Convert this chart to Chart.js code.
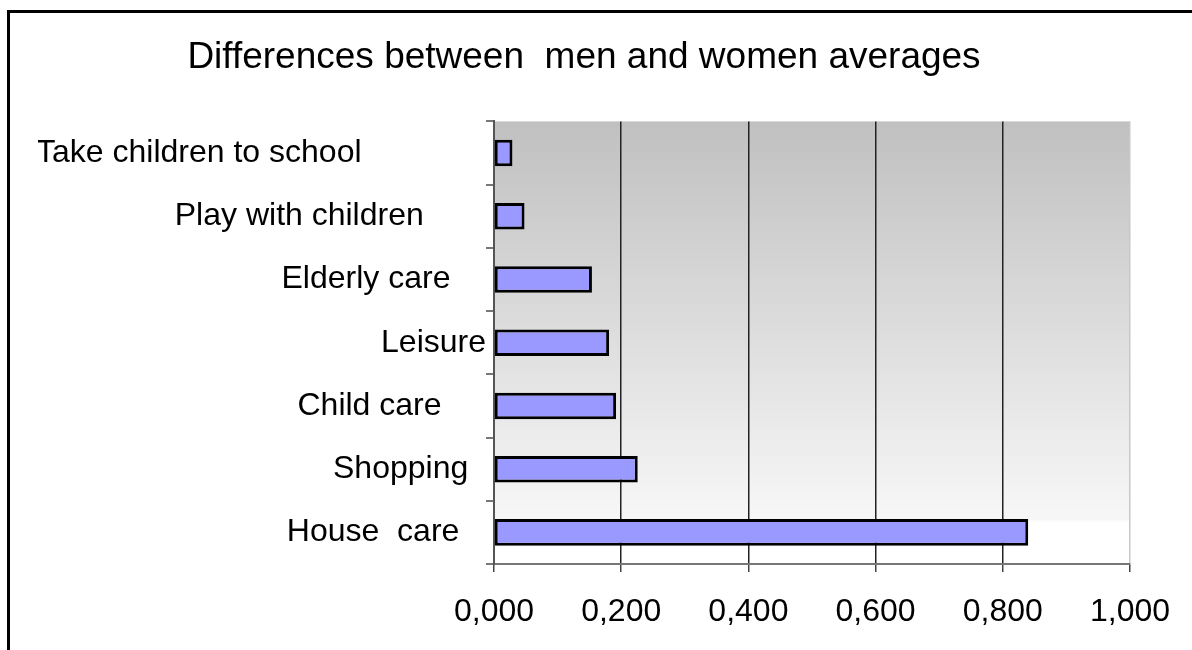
<!DOCTYPE html>
<html>
<head>
<meta charset="utf-8">
<script src="https://cdn.jsdelivr.net/npm/chart.js@4.4.1/dist/chart.umd.min.js"></script>
<style>
  body{margin:0;background:#fff;}
  #wrap{position:relative;width:1192px;height:650px;overflow:hidden;}
  #moldura{position:absolute;left:7px;top:10px;width:1300px;height:800px;border:3px solid #000;}
  canvas{position:absolute;left:0;top:0;}
</style>
</head>
<body>
<div id="wrap">
  <div id="moldura"></div>
  <canvas id="grafico" width="1192" height="650"></canvas>
</div>
<script>
// categorias como vieram da planilha (com os espaços no fim)
const categorias = [
  "Take children to school              ",
  "Play with children       ",
  "Elderly care    ",
  "Leisure",
  "Child care     ",
  "Shopping  ",
  "House  care   "
];
const diferencas = [0.029, 0.048, 0.154, 0.181, 0.192, 0.226, 0.840];
const ticksX = [0, 0.2, 0.4, 0.6, 0.8, 1.0];

const fonte = "'Liberation Sans', Arial, sans-serif";

// fundo degradê cinza -> branco só na área do gráfico
const fundo = {
  id: "fundo",
  beforeDraw(c){
    const a = c.chartArea, ctx = c.ctx;
    const g = ctx.createLinearGradient(0, a.top, 0, a.bottom);
    g.addColorStop(0, "#c0c0c0");
    g.addColorStop(0.9, "#f7f7f7");
    g.addColorStop(0.905, "#ffffff");
    g.addColorStop(1, "#ffffff");
    ctx.save();
    ctx.fillStyle = g;
    ctx.fillRect(a.left, a.top, a.right - a.left, a.bottom - a.top);
    ctx.restore();
  }
};

new Chart(document.getElementById("grafico"), {
  type: "bar",
  data: {
    labels: categorias,
    datasets: [{
      data: diferencas,
      backgroundColor: "#9999ff",
      borderColor: "#000",
      borderWidth: 3,
      borderSkipped: false,
      categoryPercentage: 1,
      barPercentage: 0.42
    }]
  },
  options: {
    indexAxis: "y",
    responsive: false,
    animation: false,
    layout: {padding: {left: 38, right: 62, top: 0, bottom: 0}},
    plugins: {
      legend: {display: false},
      tooltip: {enabled: false},
      title: {
        display: true,
        text: "Differences between  men and women averages",
        color: "#000",
        font: {family: fonte, size: 37, weight: "normal"},
        padding: {top: 36, bottom: 41}
      }
    },
    scales: {
      x: {
        min: 0,
        max: 1,
        afterBuildTicks: s => { s.ticks = ticksX.map(v => ({value: v})); },
        afterFit: s => { s.height = 86; },
        ticks: {
          color: "#000",
          padding: 21,
          maxRotation: 0,
          font: {family: fonte, size: 32},
          callback: v => v.toFixed(3).replace(".", ",")
        },
        grid: {
          color: ctx => ctx.tick && ctx.tick.value === 1 ? "#c8c8c8" : "#222",
          tickColor: "#444",
          lineWidth: 1.5,
          tickLength: 8
        },
        border: {color: "#777", width: 2}
      },
      y: {
        afterFit: s => { s.width = 456; },
        ticks: {
          color: "#000",
          padding: 0,
          autoSkip: false,
          font: {family: fonte, size: 32}
        },
        grid: {
          drawOnChartArea: false,
          tickColor: "#777",
          lineWidth: 2,
          tickLength: 8
        },
        border: {color: "#555", width: 2}
      }
    }
  },
  plugins: [fundo]
});
</script>
</body>
</html>
